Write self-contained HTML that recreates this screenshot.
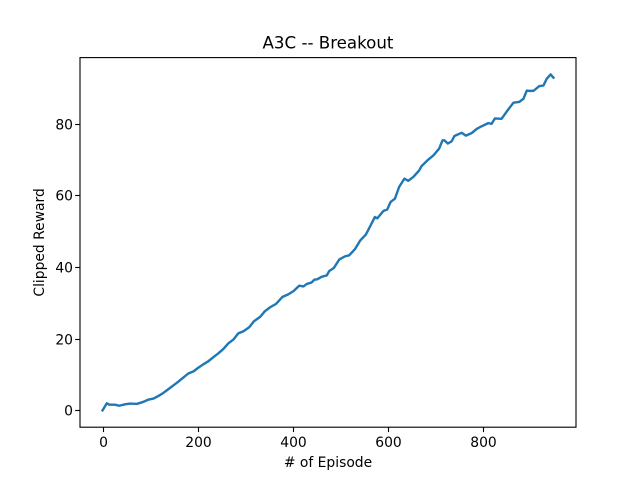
<!DOCTYPE html>
<html>
<head>
<meta charset="utf-8">
<style>
html,body{margin:0;padding:0;background:#fff;}
svg{display:block;font-family:"DejaVu Sans","Liberation Sans",sans-serif;}
</style>
</head>
<body>
<svg id="chart" width="640" height="480" viewBox="0 0 640 480" xmlns="http://www.w3.org/2000/svg">
<rect x="0" y="0" width="640" height="480" fill="#fff"/>
<text x="328" y="48.5" font-size="16.67" text-anchor="middle" fill="#000">A3C -- Breakout</text>
<text x="328" y="467" font-size="13.89" text-anchor="middle" fill="#000"># of Episode</text>
<text x="0" y="0" transform="translate(44 242.4) rotate(-90)" font-size="13.89" text-anchor="middle" fill="#000">Clipped Reward</text>
<g id="ticks"></g>
<polyline id="line" fill="none" stroke="#1f77b4" stroke-width="2.4" stroke-linejoin="round" stroke-linecap="square"></polyline>
<rect x="80" y="57.6" width="496" height="369.6" fill="none" stroke="#000" stroke-width="1.11"/>
</svg>
<script>
const episodes = [0,9,14,26,35,47,58,72,86,96,107,117,128,138,149,159,170,180,191,201,212,222,233,243,254,264,275,285,296,308,318,331,341,352,364,378,390,401,413,422,429,439,445,451,460,471,476,486,497,509,518,530,541,553,562,572,577,590,598,605,614,623,634,642,653,665,670,684,695,707,714,718,725,733,739,754,763,775,786,796,810,817,824,838,852,863,875,884,891,896,905,917,926,933,941,947];
const rewards = [0,2.0,1.6,1.6,1.3,1.7,1.9,1.8,2.4,3.0,3.3,4.0,4.9,5.9,7.0,8.0,9.2,10.3,10.9,11.9,12.9,13.7,14.9,15.9,17.2,18.7,19.8,21.5,22.1,23.2,24.9,26.1,27.7,28.8,29.7,31.7,32.4,33.3,34.8,34.6,35.3,35.7,36.5,36.6,37.3,37.7,38.9,39.8,42.1,43.0,43.3,45.0,47.4,49.1,51.4,54.0,53.6,55.7,56.1,58.2,59.1,62.4,64.7,64.1,65.2,67.0,68.2,70.0,71.2,73.1,75.4,75.4,74.5,75.1,76.6,77.5,76.7,77.4,78.6,79.3,80.2,80.0,81.5,81.4,84.0,85.9,86.1,87.0,89.3,89.2,89.2,90.5,90.7,92.6,93.8,92.9];
const xTickLabels = [0,200,400,600,800];
const yTickLabels = [0,20,40,60,80];

const SVG_NS = 'http://www.w3.org/2000/svg';
const plotLeft = 80, plotRight = 576, plotTop = 57.6, plotBottom = 427.2;
const xMin = Math.min(...episodes), xMax = Math.max(...episodes);
const yMin = Math.min(...rewards), yMax = Math.max(...rewards);
const xPad = (xMax - xMin) * 0.05, yPad = (yMax - yMin) * 0.05;
function xScale(v) {
  return plotLeft + (v - (xMin - xPad)) / (xMax - xMin + 2 * xPad) * (plotRight - plotLeft);
}
function yScale(v) {
  return plotBottom - (v - (yMin - yPad)) / (yMax - yMin + 2 * yPad) * (plotBottom - plotTop);
}
const pts = episodes.map(function (e, i) {
  return xScale(e).toFixed(2) + ',' + yScale(rewards[i]).toFixed(2);
});
document.getElementById('line').setAttribute('points', pts.join(' '));

const ticks = document.getElementById('ticks');
xTickLabels.forEach(function (v) {
  const x = Math.round(xScale(v)) + 0.5;
  const tick = document.createElementNS(SVG_NS, 'line');
  
  
  tick.setAttribute('x1', x);
  tick.setAttribute('x2', x);
  tick.setAttribute('y1', plotBottom);
  tick.setAttribute('y2', plotBottom + 4.86);
  tick.setAttribute('stroke', '#000');
  tick.setAttribute('stroke-width', '1.11');
  ticks.appendChild(tick);
  const label = document.createElementNS(SVG_NS, 'text');
  
  
  label.setAttribute('x', x);
  label.setAttribute('y', 447);
  label.setAttribute('font-size', '13.89');
  label.setAttribute('text-anchor', 'middle');
  label.textContent = v;
  ticks.appendChild(label);
});
yTickLabels.forEach(function (v) {
  const y = Math.round(yScale(v)) + 0.5;
  const tick = document.createElementNS(SVG_NS, 'line');
  
  
  tick.setAttribute('x1', plotLeft - 4.86);
  tick.setAttribute('x2', plotLeft);
  tick.setAttribute('y1', y);
  tick.setAttribute('y2', y);
  tick.setAttribute('stroke', '#000');
  tick.setAttribute('stroke-width', '1.11');
  ticks.appendChild(tick);
  const label = document.createElementNS(SVG_NS, 'text');
  
  
  label.setAttribute('x', plotLeft - 7);
  label.setAttribute('y', y + 5);
  label.setAttribute('font-size', '13.89');
  label.setAttribute('text-anchor', 'end');
  label.textContent = v;
  ticks.appendChild(label);
});
</script>
</body>
</html>
